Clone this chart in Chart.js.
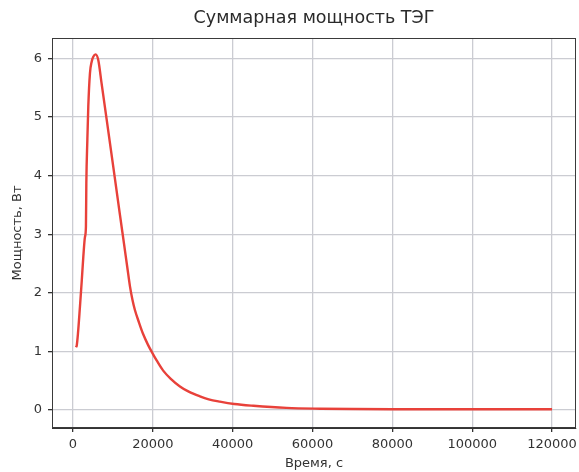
<!DOCTYPE html>
<html>
<head>
<meta charset="utf-8">
<script src="https://cdn.jsdelivr.net/npm/chart.js@4/dist/chart.umd.min.js"></script>
<style>
html,body{margin:0;padding:0;background:#fff;}
#wrap{width:579px;height:472px;}
</style>
</head>
<body>
<div id="wrap"><canvas id="c" width="579" height="472"></canvas></div>
<script>
const timeSec = [750, 950, 1250, 1750, 2200, 2600, 3000, 3250, 3350, 3600, 3840, 4260, 4700, 5090, 5680, 6350, 7180, 8420, 10100, 11770, 12800, 13600, 14300, 14900, 15500, 16500, 17600, 18800, 19900, 21000, 22600, 24500, 26800, 29000, 31800, 34000, 36800, 40400, 45200, 53500, 61900, 70000, 80000, 90000, 100000, 110000, 120000];
const powerW = [1.07, 1.1, 1.3, 1.76, 2.2, 2.62, 2.95, 3.13, 3.87, 4.6, 5.18, 5.75, 5.95, 6.03, 6.07, 5.97, 5.57, 4.97, 4.15, 3.33, 2.83, 2.44, 2.1, 1.88, 1.71, 1.50, 1.29, 1.11, 0.97, 0.84, 0.67, 0.53, 0.40, 0.31, 0.23, 0.18, 0.14, 0.10, 0.07, 0.034, 0.02, 0.014, 0.011, 0.01, 0.01, 0.01, 0.01];
const xTicks = [0, 20000, 40000, 60000, 80000, 100000, 120000];
const yTicks = [0, 1, 2, 3, 4, 5, 6];
const chartTitle = 'Суммарная мощность ТЭГ';
const xLabel = 'Время, с';
const yLabel = 'Мощность, Вт';

const points = timeSec.map((t, i) => ({x: t, y: powerW[i]}));
const FONT = 'DejaVu Sans';

const frame = {
  id: 'frame',
  afterDatasetsDraw(chart) {
    const a = chart.chartArea, ctx = chart.ctx;
    ctx.save();
    ctx.strokeStyle = '#3a3a3a';
    ctx.lineWidth = 1;
    ctx.strokeRect(Math.round(a.left) + 0.5, Math.round(a.top) + 0.5, Math.round(a.right - a.left) - 1, Math.round(a.bottom - a.top) - 1);
    ctx.restore();
  },
  afterDraw(chart) {
    const a = chart.chartArea, ctx = chart.ctx;
    ctx.save();
    ctx.fillStyle = '#2a2a2a';
    ctx.font = '17.5px "DejaVu Sans"';
    ctx.textAlign = 'center';
    ctx.textBaseline = 'middle';
    ctx.fillText(chartTitle, (a.left + a.right) / 2, 18);
    ctx.restore();
  }
};

new Chart(document.getElementById('c'), {
  type: 'line',
  data: {
    datasets: [{
      data: points,
      borderColor: '#e8413a',
      borderWidth: 2.4,
      pointRadius: 0,
      fill: false,
      cubicInterpolationMode: 'monotone'
    }]
  },
  options: {
    responsive: false,
    animation: false,
    layout: {padding: {left: 0, right: 3, top: 38, bottom: 0}},
    plugins: {
      legend: {display: false},
      tooltip: {enabled: false},
      title: {display: false}
    },
    scales: {
      x: {
        type: 'linear',
        min: -5250,
        max: 126000,
        afterBuildTicks(s) { s.ticks = xTicks.map(v => ({value: v})); },
        afterFit(s) { s.height = 44; s.paddingLeft = 0; s.paddingRight = 0; },
        ticks: {
          callback: v => String(v),
          color: '#333',
          font: {family: FONT, size: 13},
          padding: 5,
          maxRotation: 0,
          autoSkip: false
        },
        grid: {color: '#cbccd2', lineWidth: 1.3, tickLength: 4, tickColor: '#333'},
        border: {display: true, color: '#333'},
        title: {display: true, text: xLabel, color: '#333', font: {family: FONT, size: 13}, padding: {top: 0, bottom: 1}}
      },
      y: {
        type: 'linear',
        min: -0.31,
        max: 6.35,
        afterBuildTicks(s) { s.ticks = yTicks.map(v => ({value: v})); },
        afterFit(s) { s.width = 52; s.paddingTop = 0; s.paddingBottom = 0; },
        ticks: {
          callback: v => String(v),
          color: '#333',
          font: {family: FONT, size: 13},
          padding: 6
        },
        grid: {color: '#cbccd2', lineWidth: 1.3, tickLength: 4, tickColor: '#333'},
        border: {display: true, color: '#333'},
        title: {display: true, text: yLabel, color: '#333', font: {family: FONT, size: 13}, padding: {top: 10, bottom: 0}}
      }
    }
  },
  plugins: [frame]
});
</script>
</body>
</html>
